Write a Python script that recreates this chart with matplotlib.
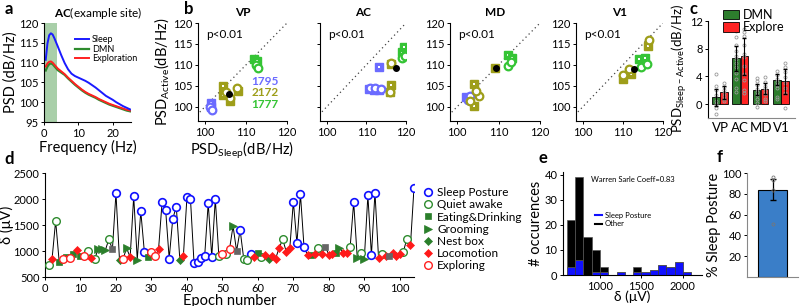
import matplotlib
matplotlib.use('Agg')
import matplotlib.pyplot as plt
import numpy as np

plt.rcParams['font.family'] = ['Lato', 'DejaVu Sans']
plt.rcParams['mathtext.fontset'] = 'custom'
plt.rcParams['mathtext.rm'] = 'Lato'
plt.rcParams['mathtext.bf'] = 'Lato:bold'
plt.rcParams['axes.linewidth'] = 0.8

# ---------------- data ----------------
# a: example PSD
freq = [0.5, 1, 1.5, 2, 2.5, 3, 4, 5, 6, 7, 8, 9, 10, 11, 12, 13, 14, 15, 16, 17, 18, 19, 20, 21, 22, 23, 24, 25]
psd_sleep = [110.7, 114.8, 116.9, 117.4, 117.1, 116.2, 114.1, 111.9, 109.9, 108.3, 107.2, 106.6, 106.2, 105.8,
             105.4, 104.9, 104.3, 103.7, 103.0, 102.3, 101.6, 101.1, 100.6, 100.0, 99.5, 99.0, 98.6, 98.2]
psd_dmn = [108.0, 109.0, 109.6, 109.8, 109.6, 109.1, 108.1, 107.5, 106.9, 106.0, 105.2, 104.4, 103.7, 103.0,
           102.4, 101.9, 101.5, 101.1, 100.6, 100.2, 99.8, 99.4, 99.1, 98.8, 98.5, 98.2, 97.9, 97.7]
psd_expl = [109.0, 109.8, 110.2, 110.3, 110.0, 109.5, 108.5, 107.8, 107.1, 106.2, 105.4, 104.6, 103.9, 103.2,
            102.6, 102.1, 101.7, 101.3, 100.8, 100.4, 100.0, 99.6, 99.3, 99.0, 98.7, 98.4, 98.1, 97.9]

# b: PSD sleep vs active per site (group, x, y); b=1795, o=2172, g=1777
vp_squares = [('b', 101.5, 100.8), ('b', 101.5, 100.0), ('o', 104.4, 105.0), ('o', 104.4, 102.8),
              ('o', 106.2, 101.3), ('o', 108.0, 103.8), ('g', 112.0, 111.5), ('g', 112.8, 110.9)]
vp_circles = [('b', 101.3, 99.9), ('b', 101.6, 99.2), ('o', 105.2, 103.6), ('o', 106.2, 102.0),
              ('o', 107.8, 104.4), ('g', 112.4, 110.0), ('g', 113.0, 109.3)]
vp_mean = (105.8, 103.0)

ac_squares = [('b', 113.1, 109.6), ('b', 110.6, 104.2), ('b', 111.8, 104.0), ('b', 113.1, 104.0),
              ('o', 116.2, 110.2), ('o', 116.2, 105.3), ('o', 115.9, 103.6),
              ('g', 118.9, 113.1), ('g', 120.0, 113.7), ('g', 119.4, 114.2)]
ac_circles = [('b', 111.0, 104.4), ('b', 112.3, 104.4), ('b', 113.6, 104.2), ('o', 116.2, 110.5),
              ('o', 115.9, 103.5), ('g', 119.1, 111.6), ('g', 119.7, 112.2)]
ac_mean = (117.4, 109.3)

md_squares = [('b', 102.2, 102.3), ('b', 103.0, 101.8), ('o', 104.2, 105.5), ('o', 104.0, 100.1),
              ('o', 109.2, 109.2), ('g', 112.4, 112.3), ('g', 113.3, 111.7)]
md_circles = [('b', 102.6, 101.5), ('b', 103.2, 102.6), ('o', 103.1, 101.3), ('o', 105.4, 102.6),
              ('o', 104.5, 103.7), ('g', 112.4, 109.8), ('g', 112.9, 110.6)]
md_mean = (109.3, 109.2)

v1_squares = [('o', 109.9, 106.7), ('o', 112.1, 107.9), ('o', 116.3, 114.5),
              ('g', 114.1, 111.4), ('g', 115.5, 111.7)]
v1_circles = [('o', 109.9, 107.5), ('o', 111.4, 109.1), ('o', 116.4, 116.0),
              ('g', 114.5, 109.5), ('g', 115.9, 110.3)]
v1_mean = (112.7, 109.1)

site_names = ['VP', 'AC', 'MD', 'V1']
animal_ids = ['1795', '2172', '1777']

# c: sleep-active PSD difference
c_sites = ['VP', 'AC', 'MD', 'V1']
c_dmn = [1.0, 6.6, 2.1, 3.5]
c_dmn_err = [1.2, 1.8, 0.8, 0.8]
c_expl = [1.7, 6.9, 2.2, 3.3]
c_expl_err = [0.9, 2.7, 0.8, 1.8]
c_dmn_pts = [[4.3, 2.6, 2.0, 1.3, 0.5, 0.0, -0.5, -1.4],
             [10.6, 9.7, 8.6, 7.6, 7.0, 6.5, 6.0, 5.3, 4.5, 3.6, 2.4, 1.8],
             [3.8, 3.3, 2.8, 2.2, 1.8, 1.3, 0.8, 0.2, -0.4],
             [4.8, 4.2, 3.6, 3.2, 2.8, 2.4, 1.0, 0.8]]
c_expl_pts = [[3.0, 2.5, 2.1, 1.6, 1.2, 0.8, 0.5],
              [10.8, 10.4, 9.8, 8.5, 7.2, 6.8, 5.5, 4.3, 3.5, 2.0, 1.6],
              [3.9, 3.2, 2.6, 2.3, 1.9, 1.4, 0.8, 0.4],
              [6.0, 5.3, 4.6, 3.9, 3.0, 2.4, 1.6, -0.5]]

# d: delta amplitude per epoch
# S=sleep posture, Q=quiet awake, E=eating&drinking, G=grooming, N=nest box, L=locomotion, X=exploring, U=unlabelled
d_state = list('QLQEXEXELEXQLQGGGQUSNXGLSGSSEXXLSSSSSNLSSSSSSSSSQXQXGUSQQSLE'
               'QLNLLLQLLSSSSLELQLULLEGLLQSGQGSSSLQLULLLQQLS')
d_delta = [730, 855, 1580, 790, 840, 890, 870, 940, 1015, 900, 900, 1000, 870, 855, 1030, 1030, 1015, 1225, 1030, 2113,
           822, 855, 1050, 885, 2050, 835, 1760, 985, 890, 985, 900, 1030, 1940, 1790, 855, 1615, 1855, 835, 900, 2030,
           2000, 770, 790, 875, 900, 1920, 890, 2000, 900, 940, 950, 1035, 1480, 1000, 1400, 855, 835, 950, 885, 960,
           890, 930, 855, 900, 855, 1060, 1225, 985, 1060, 1950, 1145, 2090, 1080, 920, 920, 940, 1050, 950, 1080, 930,
           940, 965, 1060, 965, 965, 1070, 1940, 875, 965, 855, 2070, 920, 2125, 875, 940, 900, 900, 965, 900, 950,
           985, 1240, 1110, 2215]

# e: histogram of delta (bin left edges, counts)
e_bins = [600, 700, 800, 900, 1000, 1100, 1200, 1300, 1400, 1500, 1600, 1700, 1800, 1900, 2000]
e_total = [22, 39, 15, 10, 3, 0, 1, 0, 3, 1, 2, 4, 3, 5, 1]
e_sleep = [3, 6, 0, 1, 1, 0, 1, 0, 1, 1, 2, 4, 3, 5, 1]

# f: % sleep posture
f_mean = 84
f_err = 10
f_pts = [96, 93, 84, 51]

# ---------------- figure ----------------
fig = plt.figure(figsize=(8, 3.06), dpi=100)
W, H = 800.0, 306.0


def rect(x0, y0, x1, y1):
    return [x0 / W, 1 - y1 / H, (x1 - x0) / W, (y1 - y0) / H]


def clean(ax):
    ax.spines['top'].set_visible(False)
    ax.spines['right'].set_visible(False)
    ax.tick_params(labelsize=8, length=2.5, width=0.7, pad=1.5)


def letter(x, y, s):
    fig.text(x / W, 1 - y / H, s, fontsize=12, fontweight='bold', ha='center', va='center')


# a
ax = fig.add_axes(rect(44, 23, 131, 122))
ax.axvspan(0, 3.9, color='#a9cfa9', lw=0)
ax.plot(freq, psd_dmn, color='#2e8b2e', lw=1.6, label='DMN')
ax.plot(freq, psd_expl, color='#ff2020', lw=1.4, label='Exploration')
ax.plot(freq, psd_sleep, color='#1a1aff', lw=1.4, label='Sleep')
ax.set_xlim(0, 25.3)
ax.set_ylim(95, 120)
ax.set_xticks([0, 10, 20])
ax.set_yticks([95, 100, 105, 110, 115, 120])
clean(ax)
ax.set_xlabel('Frequency (Hz)', fontsize=10.5, labelpad=1)
ax.set_ylabel('PSD (dB/Hz)', fontsize=10.5, labelpad=1)
ax.set_title(r'$\bf{AC}$(example site)', fontsize=8.5, pad=4, x=0.62)
h = ax.get_legend_handles_labels()[0]
ax.legend([h[2], h[0], h[1]], ['Sleep', 'DMN', 'Exploration'], fontsize=6.5, frameon=False,
          loc='upper left', bbox_to_anchor=(0.3, 0.92), handlelength=1.6, handletextpad=0.3,
          labelspacing=0.05, borderpad=0)
letter(9, 9, 'a')

# b
grp_col = {'b': '#6b6bff', 'o': '#9e9e1a', 'g': '#35c435'}
b_rects = [(198, 287), (320, 406), (450, 540), (576, 663)]
b_data = [(vp_squares, vp_circles, vp_mean), (ac_squares, ac_circles, ac_mean),
          (md_squares, md_circles, md_mean), (v1_squares, v1_circles, v1_mean)]
for i, (x0, x1) in enumerate(b_rects):
    ax = fig.add_axes(rect(x0, 23, x1, 121))
    sq, ci, mn = b_data[i]
    ax.plot([95, 120], [95, 120], ls=(0, (1, 2.5)), color='#444444', lw=0.9)
    for g, x, y in sq:
        ax.plot(x, y, 's', ms=6, color=grp_col[g], mec=grp_col[g])
        ax.plot(x, y, 's', ms=1.6, color='white', mew=0)
    for g, x, y in ci:
        ax.plot(x, y, 'o', ms=5.5, mfc='white', mec=grp_col[g], mew=1.6)
    ax.plot(mn[0], mn[1], 'o', ms=4, color='black')
    ax.set_xlim(98.3, 120)
    ax.set_ylim(96.6, 120)
    ax.set_xticks([100, 110, 120])
    ax.set_yticks([100, 105, 110, 115, 120])
    clean(ax)
    if i == 1:
        ax.set_yticklabels([])
    ax.text(100.3, 117.2, 'p<0.01', fontsize=8.5, va='center')
    ax.set_title(site_names[i], fontsize=8.5, fontweight='bold', pad=5)
    if i == 0:
        for k, g in enumerate(['b', 'o', 'g']):
            ax.text(111.3, 106.1 - 2.8 * k, animal_ids[k], color=grp_col[g], fontsize=8.5,
                    fontweight='bold', va='center')
        ax.set_ylabel(r'PSD$_{\mathrm{Active}}$(dB/Hz)', fontsize=10.5, labelpad=1)
        ax.set_xlabel(r'PSD$_{\mathrm{Sleep}}$(dB/Hz)', fontsize=10.5, labelpad=1)
letter(189, 9, 'b')

# c
ax = fig.add_axes(rect(708, 21, 795, 118))
xc = np.arange(1, 5)
bw = 0.38
ax.bar(xc - 0.2, c_dmn, bw, color='#2d7d2d', edgecolor='black', lw=0.6, label='DMN')
ax.bar(xc + 0.2, c_expl, bw, color='#ff2424', edgecolor='black', lw=0.6, label='Explore')
for j in range(4):
    ax.plot([xc[j] - 0.2] * len(c_dmn_pts[j]), c_dmn_pts[j], 'o', ms=2.2, mfc='none', mec='#999999', mew=0.6)
    ax.plot([xc[j] + 0.2] * len(c_expl_pts[j]), c_expl_pts[j], 'o', ms=2.2, mfc='none', mec='#999999', mew=0.6)
ax.errorbar(xc - 0.2, c_dmn, yerr=c_dmn_err, fmt='none', ecolor='black', elinewidth=0.8, capsize=1.5)
ax.errorbar(xc + 0.2, c_expl, yerr=c_expl_err, fmt='none', ecolor='black', elinewidth=0.8, capsize=1.5)
ax.set_xlim(0.4, 4.7)
ax.set_ylim(-2, 12)
ax.set_yticks([0, 4, 8, 12])
ax.set_xticks(xc)
ax.set_xticklabels(c_sites)
clean(ax)
ax.tick_params(axis='x', length=0, labelsize=9.5, pad=3)
ax.spines['bottom'].set_color('#888888')
ax.set_ylabel(r'PSD$_{\mathrm{Sleep-Active}}$(dB/Hz)', fontsize=9.5)
ax.yaxis.set_label_coords(-0.22, 0.51)
ax.legend(fontsize=9, frameon=False, loc='upper left', bbox_to_anchor=(0.1, 1.19),
          handlelength=1.3, handleheight=0.8, handletextpad=0.3, labelspacing=0.05, borderpad=0)
letter(694, 9, 'c')

# d
ax = fig.add_axes(rect(45, 173, 414, 277))
epochs = np.arange(1, len(d_delta) + 1)
ax.plot(epochs, d_delta, color='black', lw=0.7, zorder=1)
green = '#2b7f2b'
styles = {
    'S': dict(marker='o', mfc='white', mec='#1010ff', mew=1.2, ms=5.5, label='Sleep Posture'),
    'Q': dict(marker='o', mfc='white', mec='#2e8b2e', mew=1.0, ms=5.5, label='Quiet awake'),
    'E': dict(marker='s', mfc=green, mec=green, mew=0.5, ms=5, label='Eating&Drinking'),
    'G': dict(marker='>', mfc=green, mec=green, mew=0.5, ms=6, label='Grooming'),
    'N': dict(marker='D', mfc=green, mec=green, mew=0.5, ms=4.5, label='Nest box'),
    'L': dict(marker='D', mfc='#ff1a1a', mec='#ff1a1a', mew=0.5, ms=4.5, label='Locomotion'),
    'X': dict(marker='o', mfc='white', mec='#ff2020', mew=1.0, ms=5.5, label='Exploring'),
    'U': dict(marker='s', mfc='#666666', mec='#666666', mew=0.5, ms=5, label='_nolegend_'),
}
st_arr = np.array(d_state)
ep_arr = np.array(epochs)
de_arr = np.array(d_delta)
for k in ['S', 'Q', 'E', 'G', 'N', 'L', 'X', 'U']:
    m = st_arr == k
    ax.plot(ep_arr[m], de_arr[m], ls='none', zorder=3, **styles[k])
ax.set_xlim(0, 104)
ax.set_ylim(500, 2500)
ax.set_xticks(range(0, 101, 10))
ax.set_yticks(range(500, 2501, 500))
clean(ax)
ax.set_xlabel('Epoch number', fontsize=10.5, labelpad=0)
ax.set_ylabel('δ (μV)', fontsize=10.5)
ax.yaxis.set_label_coords(-0.085, 0.5)
ax.legend(fontsize=8.5, frameon=False, loc='upper left', bbox_to_anchor=(1.01, 0.92),
          handlelength=0.8, handletextpad=0.35, labelspacing=0.1, borderpad=0)
letter(9, 159, 'd')

# e
ax = fig.add_axes(rect(563, 172, 702, 275))
e_other = [t - s for t, s in zip(e_total, e_sleep)]
ax.bar(e_bins, e_sleep, 100, align='edge', color='#1010ff', edgecolor='#333333', lw=0.5)
ax.bar(e_bins, e_other, 100, bottom=e_sleep, align='edge', color='black', edgecolor='#555555', lw=0.5)
ax.plot([], [], color='#1010ff', lw=1.5, label='Sleep Posture')
ax.plot([], [], color='black', lw=1.5, label='Other')
ax.set_xlim(555, 2230)
ax.set_ylim(0, 41)
ax.set_xticks([1000, 1500, 2000])
ax.set_yticks([0, 10, 20, 30, 40])
clean(ax)
ax.text(0.2, 0.9, 'Warren Sarle Coeff=0.83', transform=ax.transAxes, fontsize=5.5)
ax.legend(fontsize=5.5, frameon=False, loc='upper left', bbox_to_anchor=(0.2, 0.65),
          handlelength=1.0, handletextpad=0.3, labelspacing=0.2, borderpad=0)
ax.set_xlabel('δ (μV)', fontsize=10, labelpad=-1)
ax.set_ylabel('# occurences', fontsize=10.5, labelpad=1)
letter(543, 158, 'e')

# f
ax = fig.add_axes(rect(747, 173, 798, 277))
ax.bar([1], [f_mean], 0.7, color='#3a7ec8', edgecolor='black', lw=0.8)
ax.errorbar([1], [f_mean], yerr=[f_err], fmt='none', ecolor='black', elinewidth=0.9, capsize=2)
ax.plot([1] * len(f_pts), f_pts, 'o', ms=2.2, mfc='none', mec='#777777', mew=0.6)
ax.set_xlim(0.4, 1.6)
ax.set_ylim(0, 100)
ax.set_xticks([])
ax.set_yticks([20, 40, 60, 80, 100])
clean(ax)
ax.spines['bottom'].set_color('#888888')
ax.spines['left'].set_color('#888888')
ax.set_ylabel('% Sleep Posture', fontsize=10.5, labelpad=1)
letter(720, 157, 'f')

fig.savefig('out.png', dpi=100)
